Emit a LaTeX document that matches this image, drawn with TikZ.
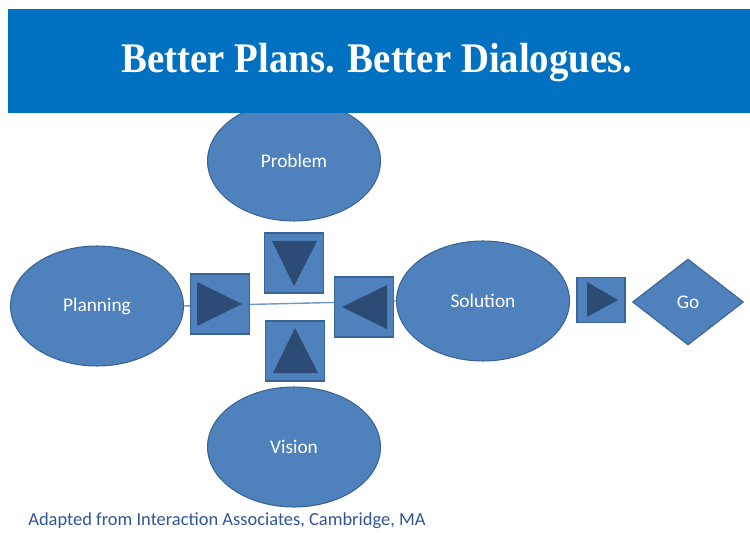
\documentclass[tikz,border=0pt]{standalone}
\usepackage{fontspec}
\setmainfont{Carlito}
\newfontfamily\titlefont{Liberation Serif}
\usepackage{tikz}
\usetikzlibrary{shapes.geometric,backgrounds}
\definecolor{bandblue}{HTML}{0070C0}
\definecolor{shapeblue}{HTML}{4F81BD}
\definecolor{shapeline}{HTML}{3A6494}
\definecolor{tridark}{HTML}{2C4C76}
\definecolor{linkblue}{HTML}{6A98D0}
\definecolor{notecol}{HTML}{2F5597}
\tikzstyle{stage}=[ellipse, draw=shapeline, fill=shapeblue, line width=0.6pt, inner sep=0pt, minimum width=3.46cm, minimum height=2.4cm, text=white, font=\fontsize{11}{13}\selectfont]
\tikzstyle{gobox}=[diamond, draw=shapeline, fill=shapeblue, line width=0.6pt, inner sep=0pt, minimum width=2.22cm, minimum height=1.72cm, text=white, font=\fontsize{11}{13}\selectfont]
\tikzstyle{arrowbox}=[rectangle, draw=shapeline, fill=shapeblue, line width=0.6pt, inner sep=0pt, minimum width=1.18cm, minimum height=1.2cm]
\tikzstyle{tri}=[fill=tridark]
\tikzstyle{link}=[draw=linkblue, line width=0.8pt]

\begin{document}
\begin{tikzpicture}[x=0.02cm, y=-0.02cm]
	\useasboundingbox (0,0) rectangle (750,533);
	\begin{scope}
		\node (prob) at (294, 161)[stage] {Problem};
		\node (plan) at (97, 306)[stage] {Planning};
		\node (vis) at (294, 447)[stage] {Vision};
		\node (sol) at (483, 301)[stage] {Solution};
		\node (go) at (688, 302)[gobox] {Go};
	\end{scope}
	% the four boxes around the crossing and the one before Go
	\begin{scope}
		\node (bl) at (220, 304)[arrowbox] {};
		\node (bt) at (294, 263)[arrowbox] {};
		\node (bb) at (295, 351)[arrowbox] {};
		\node (br) at (364, 307)[arrowbox] {};
		\node (bg) at (601, 300)[arrowbox, minimum width=0.96cm, minimum height=0.9cm] {};
	\end{scope}
	\begin{scope}
		\fill[tri] (bl.center) +(-23,-22) -- +(-23,22) -- +(22,0) -- cycle;
		\fill[tri] (bt.center) +(-22,-22) -- +(23,-22) -- +(0,23) -- cycle;
		\fill[tri] (bb.center) +(-22,22) -- +(23,22) -- +(0,-23) -- cycle;
		\fill[tri] (br.center) +(23,-22) -- +(23,22) -- +(-22,0) -- cycle;
		\fill[tri] (bg.center) +(-14,-18) -- +(-14,17) -- +(17,0) -- cycle;
	\end{scope}
	\begin{pgfonlayer}{background}
		\path [link] (plan.east) -- (sol.west);
	\end{pgfonlayer}
	% title band
	\fill[bandblue] (8,9) rectangle (750,113);
	\node (title) at (377, 63) {\scalebox{0.92}[1]{\titlefont\bfseries\fontsize{24}{28}\selectfont\color{white}Better Plans. Better Dialogues.}};
	\node (note) at (28, 521)[anchor=west, inner sep=0pt, text=notecol, font=\fontsize{10.5}{12}\selectfont] {Adapted from Interaction Associates, Cambridge, MA};
\end{tikzpicture}
\end{document}
